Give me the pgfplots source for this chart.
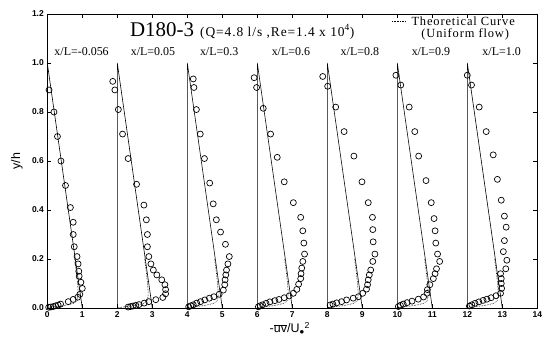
\documentclass[border=0pt]{standalone}
\usepackage{fontspec}
\setmainfont{Liberation Serif}
\setsansfont{Liberation Sans}
\newfontfamily\spacedserif[LetterSpace=7]{Liberation Serif}
\usepackage{pgfplots}
\pgfplotsset{compat=1.18}
\begin{document}
\begin{tikzpicture}
\begin{axis}[
  at={(0,0)}, anchor=south west,
  scale only axis, width=490bp, height=294bp,
  xmin=0, xmax=14, ymin=0, ymax=1.2,
  xtick={0,1,2,3,4,5,6,7,8,9,10,11,12,13,14},
  ytick={0,0.2,0.4,0.6,0.8,1.0,1.2},
  tick align=inside, major tick length=4bp,
  tick style={line width=0.7pt, black},
  axis line style={line width=0.9pt},
  /pgf/number format/assume math mode=true,
  ticklabel style={font=\sffamily\bfseries\fontsize{8.5}{10}\selectfont},
  yticklabel style={/pgf/number format/.cd, fixed, fixed zerofill, precision=1},
  xticklabel style={/pgf/number format/fixed},
  xlabel={\sffamily\fontsize{12.5}{14}\selectfont -$\overline{\hbox{\sffamily\fontsize{12.5}{14}\selectfont uv}}$/U\textsubscript{$\bullet$}\textsuperscript{2}},
  ylabel={\sffamily\fontsize{12.5}{14}\selectfont y/h},
  xlabel style={at={(axis description cs:0.495,-0.070)}, anchor=center},
  ylabel style={at={(axis description cs:-0.062,0.50)}, anchor=center},
  clip=false,
]
% theoretical straight lines
\addplot[black, line width=0.6pt] coordinates {(0,0)(0,1)(1,0)};
\addplot[black, line width=0.6pt] coordinates {(2,0)(2,1)(3,0)};
\addplot[black, line width=0.6pt] coordinates {(4,0)(4,1)(5,0)};
\addplot[black, line width=0.6pt] coordinates {(6,0)(6,1)(7,0)};
\addplot[black, line width=0.6pt] coordinates {(8,0)(8,1)(9,0)};
\addplot[black, line width=0.6pt] coordinates {(10,0)(10,1)(11,0)};
\addplot[black, line width=0.6pt] coordinates {(12,0)(12,1)(13,0)};
% theoretical near-wall curves (dotted)
\addplot[black, densely dotted, line width=0.6pt] coordinates {(0.78,0.2)(0.826,0.15)(0.865,0.1)(0.88,0.07)(0.88,0.05)(0.85,0.03)(0.78,0.02)(0.49,0.01)(0.2,0.005)(0,0)};
\addplot[black, densely dotted, line width=0.6pt] coordinates {(2.78,0.2)(2.826,0.15)(2.865,0.1)(2.88,0.07)(2.88,0.05)(2.85,0.03)(2.78,0.02)(2.49,0.01)(2.2,0.005)(2,0)};
\addplot[black, densely dotted, line width=0.6pt] coordinates {(4.78,0.2)(4.826,0.15)(4.865,0.1)(4.88,0.07)(4.88,0.05)(4.85,0.03)(4.78,0.02)(4.49,0.01)(4.2,0.005)(4,0)};
\addplot[black, densely dotted, line width=0.6pt] coordinates {(6.78,0.2)(6.826,0.15)(6.865,0.1)(6.88,0.07)(6.88,0.05)(6.85,0.03)(6.78,0.02)(6.49,0.01)(6.2,0.005)(6,0)};
\addplot[black, densely dotted, line width=0.6pt] coordinates {(8.78,0.2)(8.826,0.15)(8.865,0.1)(8.88,0.07)(8.88,0.05)(8.85,0.03)(8.78,0.02)(8.49,0.01)(8.2,0.005)(8,0)};
\addplot[black, densely dotted, line width=0.6pt] coordinates {(10.78,0.2)(10.826,0.15)(10.865,0.1)(10.88,0.07)(10.88,0.05)(10.85,0.03)(10.78,0.02)(10.49,0.01)(10.2,0.005)(10,0)};
\addplot[black, densely dotted, line width=0.6pt] coordinates {(12.78,0.2)(12.826,0.15)(12.865,0.1)(12.88,0.07)(12.88,0.05)(12.85,0.03)(12.78,0.02)(12.49,0.01)(12.2,0.005)(12,0)};
% measured data
\addplot[only marks, mark=o, mark size=3bp, mark options={line width=0.7pt, black}] coordinates {
(0.05,0.89)(0.19,0.80)(0.29,0.70)(0.39,0.60)(0.52,0.50)(0.66,0.41)(0.74,0.35)(0.74,0.30)(0.77,0.25)(0.85,0.21)(0.88,0.18)(0.90,0.15)(0.91,0.13)(0.96,0.105)(1.0,0.08)(0.93,0.056)(0.87,0.044)(0.74,0.035)(0.60,0.026)(0.38,0.016)(0.31,0.012)(0.24,0.009)(0.17,0.006)(0.10,0.004)(0.04,0.003)};
\addplot[only marks, mark=o, mark size=3bp, mark options={line width=0.7pt, black}] coordinates {
(1.87,0.925)(1.93,0.89)(2.03,0.81)(2.15,0.71)(2.31,0.61)(2.55,0.505)(2.76,0.42)(2.83,0.36)(2.86,0.30)(2.86,0.25)(2.90,0.21)(2.96,0.18)(3.03,0.155)(3.13,0.135)(3.27,0.115)(3.36,0.095)(3.38,0.075)(3.38,0.058)(3.30,0.043)(3.10,0.034)(2.90,0.026)(2.77,0.02)(2.62,0.014)(2.53,0.011)(2.45,0.008)(2.38,0.006)(2.31,0.004)};
\addplot[only marks, mark=o, mark size=3bp, mark options={line width=0.7pt, black}] coordinates {
(4.17,0.935)(4.19,0.90)(4.26,0.81)(4.37,0.71)(4.49,0.61)(4.64,0.51)(4.74,0.425)(4.83,0.36)(4.95,0.31)(5.09,0.26)(5.20,0.21)(5.16,0.18)(5.12,0.155)(5.10,0.135)(5.08,0.115)(5.07,0.095)(5.03,0.073)(4.91,0.056)(4.76,0.046)(4.63,0.04)(4.50,0.033)(4.38,0.026)(4.27,0.02)(4.17,0.013)(4.10,0.009)(4.04,0.005)};
\addplot[only marks, mark=o, mark size=3bp, mark options={line width=0.7pt, black}] coordinates {
(5.91,0.94)(5.98,0.90)(6.17,0.815)(6.38,0.71)(6.57,0.615)(6.77,0.515)(7.03,0.43)(7.24,0.37)(7.30,0.315)(7.33,0.265)(7.35,0.22)(7.30,0.19)(7.27,0.163)(7.25,0.14)(7.24,0.12)(7.18,0.097)(7.13,0.076)(7.03,0.06)(6.91,0.049)(6.77,0.042)(6.62,0.035)(6.50,0.03)(6.36,0.025)(6.25,0.019)(6.15,0.013)(6.08,0.009)(6.03,0.005)};
\addplot[only marks, mark=o, mark size=3bp, mark options={line width=0.7pt, black}] coordinates {
(7.87,0.945)(8.01,0.905)(8.24,0.82)(8.48,0.72)(8.76,0.62)(8.99,0.515)(9.17,0.43)(9.29,0.37)(9.30,0.32)(9.31,0.27)(9.36,0.22)(9.30,0.19)(9.24,0.155)(9.20,0.135)(9.17,0.115)(9.15,0.095)(9.12,0.077)(9.01,0.06)(8.89,0.046)(8.74,0.04)(8.55,0.033)(8.41,0.026)(8.27,0.021)(8.16,0.016)(8.08,0.012)};
\addplot[only marks, mark=o, mark size=3bp, mark options={line width=0.7pt, black}] coordinates {
(9.96,0.95)(10.10,0.91)(10.34,0.82)(10.50,0.72)(10.61,0.62)(10.82,0.52)(10.97,0.43)(11.05,0.365)(11.08,0.315)(11.10,0.265)(11.15,0.22)(11.21,0.19)(11.12,0.16)(11.08,0.14)(11.03,0.12)(10.93,0.095)(10.86,0.075)(10.85,0.06)(10.75,0.045)(10.60,0.036)(10.42,0.028)(10.28,0.022)(10.17,0.016)(10.09,0.011)(10.03,0.006)};
\addplot[only marks, mark=o, mark size=3bp, mark options={line width=0.7pt, black}] coordinates {
(12.0,0.95)(12.12,0.91)(12.34,0.82)(12.54,0.72)(12.74,0.625)(12.86,0.525)(12.97,0.44)(13.06,0.375)(13.11,0.33)(13.06,0.275)(13.03,0.23)(13.13,0.195)(13.10,0.16)(12.95,0.14)(12.97,0.12)(12.97,0.10)(12.98,0.08)(12.95,0.06)(12.82,0.05)(12.68,0.042)(12.56,0.036)(12.45,0.031)(12.33,0.025)(12.22,0.019)(12.13,0.013)(12.06,0.008)};
% labels
\node[font=\fontsize{12}{14}\selectfont] at (axis cs:0.98,1.045) {x/L=-0.056};
\node[font=\fontsize{12}{14}\selectfont] at (axis cs:3.02,1.045) {x/L=0.05};
\node[font=\fontsize{12}{14}\selectfont] at (axis cs:4.91,1.045) {x/L=0.3};
\node[font=\fontsize{12}{14}\selectfont] at (axis cs:6.96,1.045) {x/L=0.6};
\node[font=\fontsize{12}{14}\selectfont] at (axis cs:8.93,1.045) {x/L=0.8};
\node[font=\fontsize{12}{14}\selectfont] at (axis cs:10.96,1.045) {x/L=0.9};
\node[font=\fontsize{12}{14}\selectfont] at (axis cs:12.98,1.045) {x/L=1.0};
\node[anchor=base west, inner sep=0pt, font=\fontsize{21}{24}\selectfont] at (axis cs:2.36,1.11) {D180-3};
\node[anchor=base west, inner sep=0pt, font=\spacedserif\fontsize{13.5}{15}\selectfont] at (axis cs:4.36,1.11) {(Q=4.8 l/s ,Re=1.4 x 10\textsuperscript{4})};
\draw[black, densely dotted, line width=0.6pt] (axis cs:9.85,1.172) -- (axis cs:10.25,1.172);
\node[anchor=west, inner sep=0pt, font=\spacedserif\fontsize{12.5}{14}\selectfont] at (axis cs:10.40,1.172) {Theoretical Curve};
\node[anchor=center, inner sep=0pt, font=\spacedserif\fontsize{12.5}{14}\selectfont] at (axis cs:11.94,1.115) {(Uniform flow)};
\end{axis}
\path[use as bounding box] (-47.3bp,-30bp) rectangle (506.7bp,308bp);
\end{tikzpicture}
\end{document}
